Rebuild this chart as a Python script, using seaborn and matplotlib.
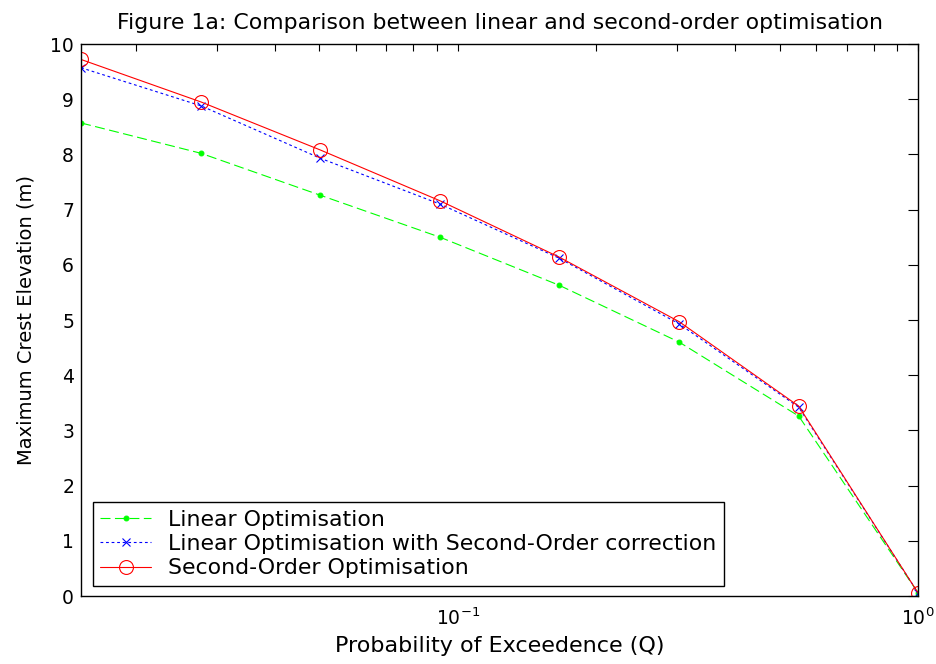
import matplotlib
matplotlib.use("Agg")
import matplotlib.pyplot as plt
from matplotlib.ticker import LogLocator, LogFormatterMathtext, NullFormatter, MultipleLocator
import seaborn as sns
import pandas as pd

# Probability of exceedance levels
q_levels = [0.0152, 0.0277, 0.0503, 0.0915, 0.166, 0.3025, 0.55, 1.0]

# Maximum crest elevation (m) for each method
linear_opt = [8.57, 8.02, 7.26, 6.50, 5.63, 4.60, 3.26, 0.05]
linear_corr = [9.57, 8.88, 7.93, 7.10, 6.12, 4.93, 3.42, 0.05]
second_order = [9.72, 8.95, 8.08, 7.16, 6.14, 4.97, 3.44, 0.05]

series_labels = [
    "Linear Optimisation",
    "Linear Optimisation with Second-Order correction",
    "Second-Order Optimisation",
]

title_text = "Figure 1a: Comparison between linear and second-order optimisation"
x_label = "Probability of Exceedence (Q)"
y_label = "Maximum Crest Elevation (m)"

sns.set_style("white")
plt.rcParams["font.family"] = ["DejaVu Sans"]
plt.rcParams["mathtext.fontset"] = "dejavusans"
plt.rcParams["text.color"] = "black"
plt.rcParams["axes.labelcolor"] = "black"

df = pd.DataFrame({
    "Q": q_levels,
    "linear": linear_opt,
    "corr": linear_corr,
    "second": second_order,
})

fig = plt.figure(figsize=(9.37, 6.64), dpi=100)
ax = fig.add_axes([0.0865, 0.1024, 0.8935, 0.8313])

sns.lineplot(data=df, x="Q", y="linear", ax=ax, color=(0, 1, 0),
             linestyle=(0, (9, 4)), linewidth=0.8, marker="o", markersize=3.5,
             markerfacecolor=(0, 1, 0), markeredgecolor=(0, 1, 0),
             label=series_labels[0])
sns.lineplot(data=df, x="Q", y="corr", ax=ax, color=(0, 0, 1),
             linestyle=(0, (2.5, 2.5)), linewidth=0.8, marker="x", markersize=6,
             markeredgecolor=(0, 0, 1), markeredgewidth=0.8,
             label=series_labels[1])
sns.lineplot(data=df, x="Q", y="second", ax=ax, color=(1, 0, 0),
             linestyle="-", linewidth=0.8, marker="o", markersize=10,
             markerfacecolor="none", markeredgecolor=(1, 0, 0), markeredgewidth=0.8,
             label=series_labels[2])

ax.set_xscale("log")
ax.set_xlim(q_levels[0], 1.0)
ax.set_ylim(0, 10)
ax.yaxis.set_major_locator(MultipleLocator(1))
ax.xaxis.set_major_locator(LogLocator(base=10))
ax.xaxis.set_major_formatter(LogFormatterMathtext())
ax.xaxis.set_minor_locator(LogLocator(base=10, subs=range(2, 10)))
ax.xaxis.set_minor_formatter(NullFormatter())

for side in ["left", "right", "top", "bottom"]:
    ax.spines[side].set_visible(True)
    ax.spines[side].set_color("black")
    ax.spines[side].set_linewidth(1.0)

ax.tick_params(axis="both", which="both", direction="in", top=True, right=True,
               colors="black", labelsize=13.5, width=0.8)
ax.tick_params(axis="y", which="major", length=7, pad=5)
ax.tick_params(axis="x", which="major", length=5, pad=8)
ax.tick_params(axis="x", which="minor", length=5)

ax.set_title(title_text, fontsize=15.8, pad=11)
ax.set_xlabel(x_label, fontsize=16, labelpad=5)
ax.set_ylabel(y_label, fontsize=14, labelpad=11)

leg = ax.legend(loc="lower left", bbox_to_anchor=(0.014, 0.018), fontsize=15.8,
                frameon=True, fancybox=False, edgecolor="black", framealpha=1,
                handlelength=2.3, borderpad=0.35, labelspacing=0.2, handletextpad=0.8,
                borderaxespad=0.0)
leg.get_frame().set_linewidth(1.0)

fig.savefig("out.png", dpi=100)
